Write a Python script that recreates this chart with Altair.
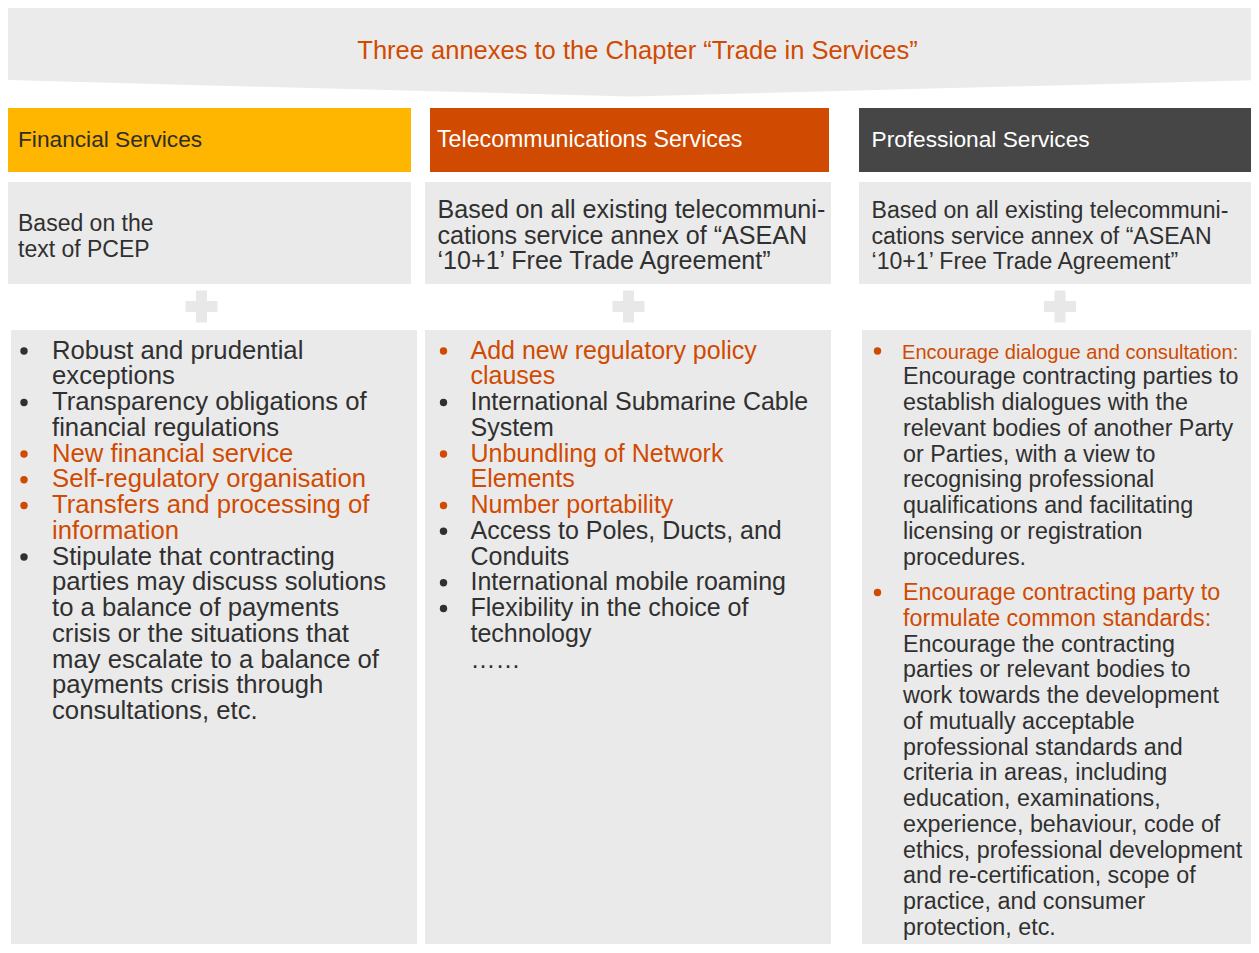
import altair as alt
import pandas as pd

# ---------------- data (text content) ----------------
title_text = "Three annexes to the Chapter \u201cTrade in Services\u201d"

annex_names = ["Financial Services", "Telecommunications Services", "Professional Services"]

basis_fin = ["Based on the", "text of PCEP"]
basis_tel = ["Based on all existing telecommuni-",
             "cations service annex of \u201cASEAN",
             "\u201810+1\u2019 Free Trade Agreement\u201d"]
basis_pro = ["Based on all existing telecommuni-",
             "cations service annex of \u201cASEAN",
             "\u201810+1\u2019 Free Trade Agreement\u201d"]

fin_text = ["Robust and prudential", "exceptions",
            "Transparency obligations of", "financial regulations",
            "New financial service",
            "Self-regulatory organisation",
            "Transfers and processing of", "information",
            "Stipulate that contracting", "parties may discuss solutions",
            "to a balance of payments", "crisis or the situations that",
            "may escalate to a balance of", "payments crisis through",
            "consultations, etc."]
fin_item = [1, 1, 2, 2, 3, 4, 5, 5, 6, 6, 6, 6, 6, 6, 6]
fin_new = [0, 0, 0, 0, 1, 1, 1, 1, 0, 0, 0, 0, 0, 0, 0]

tel_text = ["Add new regulatory policy", "clauses",
            "International Submarine Cable", "System",
            "Unbundling of Network", "Elements",
            "Number portability",
            "Access to Poles, Ducts, and", "Conduits",
            "International mobile roaming",
            "Flexibility in the choice of", "technology",
            "\u2026\u2026"]
tel_item = [1, 1, 2, 2, 3, 3, 4, 5, 5, 6, 7, 7, 0]
tel_new = [1, 1, 0, 0, 1, 1, 1, 0, 0, 0, 0, 0, 0]

pro_text = ["Encourage dialogue and consultation:",
            "Encourage contracting parties to",
            "establish dialogues with the",
            "relevant bodies of another Party",
            "or Parties, with a view to",
            "recognising professional",
            "qualifications and facilitating",
            "licensing or registration",
            "procedures.",
            "Encourage contracting party to",
            "formulate common standards:",
            "Encourage the contracting",
            "parties or relevant bodies to",
            "work towards the development",
            "of mutually acceptable",
            "professional standards and",
            "criteria in areas, including",
            "education, examinations,",
            "experience, behaviour, code of",
            "ethics, professional development",
            "and re-certification, scope of",
            "practice, and consumer",
            "protection, etc."]
pro_item = [1] * 9 + [2] * 14
pro_new = [1, 0, 0, 0, 0, 0, 0, 0, 0, 1, 1] + [0] * 12

# ---------------- layout & style ----------------
# the page has an 8px margin: the view covers page pixels 8..1251 x 8..944
W, H = 1243, 936
FONT = "Liberation Sans"
GREY = "#EAEAEA"
ORANGE = "#D04A02"
DARK = "#303030"
annex_fill = ["#FFB600", "#D04A02", "#464646"]
annex_label_color = ["#2D2D2D", "#FFFFFF", "#FFFFFF"]

xs = alt.Scale(domain=[8, 8 + W], nice=False, zero=False)
ys = alt.Scale(domain=[8, 8 + H], nice=False, zero=False, reverse=True)

def X(f):
    return alt.X(f, type="quantitative", scale=xs, axis=None)

def Y(f):
    return alt.Y(f, type="quantitative", scale=ys, axis=None)

# banner (flat chevron)
banner = pd.DataFrame({"x": [4, 630, 1262], "yb": [80, 96.5, 80], "yt": [6, 6, 6]})
banner_layer = alt.Chart(banner).mark_area(color="#EBEBEB").encode(
    x=X("x"), y=Y("yb"), y2="yt")

# rectangles
col_header_x = [(6, 411), (430, 829), (859, 1262)]
col_basis_x = [(6, 411), (425, 831), (859, 1262)]
col_panel_x = [(11, 417), (425, 831), (862, 1262)]
plus_cx = [201.5, 628.5, 1060]
plus_cy = 306.5

rects = []
for i, name in enumerate(annex_names):
    rects.append(dict(x=col_header_x[i][0], x2=col_header_x[i][1], y=108, y2=172, c=annex_fill[i]))
    rects.append(dict(x=col_basis_x[i][0], x2=col_basis_x[i][1], y=182, y2=284, c=GREY))
    rects.append(dict(x=col_panel_x[i][0], x2=col_panel_x[i][1], y=330, y2=960, c=GREY))
    cx = plus_cx[i]
    rects.append(dict(x=cx - 5.5, x2=cx + 5.5, y=plus_cy - 16, y2=plus_cy + 16, c="#E8E8E8"))
    rects.append(dict(x=cx - 16, x2=cx + 16, y=plus_cy - 5.5, y2=plus_cy + 5.5, c="#E8E8E8"))
rect_df = pd.DataFrame(rects)
rect_layer = alt.Chart(rect_df).mark_rect().encode(
    x=X("x"), x2="x2", y=Y("y"), y2="y2",
    color=alt.Color("c:N", scale=None))

# title
title_df = pd.DataFrame({"x": [637.5], "y": [59.3], "t": [title_text]})
title_layer = alt.Chart(title_df).mark_text(
    font=FONT, fontSize=25.5, color=ORANGE, align="center", baseline="alphabetic"
).encode(x=X("x"), y=Y("y"), text="t:N")

# header labels
head_x = [18, 437, 871.5]
head_fs = [22.7, 23.2, 22.7]
head_df = pd.DataFrame({"x": head_x, "y": [146.7] * 3, "t": annex_names,
                        "c": annex_label_color, "s": head_fs})
head_layer = alt.Chart(head_df).mark_text(
    font=FONT, align="left", baseline="alphabetic"
).encode(x=X("x"), y=Y("y"), text="t:N", color=alt.Color("c:N", scale=None),
         size=alt.Size("s:Q", scale=None))

# basis lines
basis_rows = []
basis_specs = [(basis_fin, 18, 231.0, 23), (basis_tel, 437.5, 218.3, 25.1), (basis_pro, 871.5, 218.3, 23.1)]
for lines, bx, by, fs in basis_specs:
    for k, t in enumerate(lines):
        basis_rows.append(dict(x=bx, y=by + k * 25.5, t=t, s=fs))
basis_df = pd.DataFrame(basis_rows)
basis_layer = alt.Chart(basis_df).mark_text(
    font=FONT, color=DARK, align="left", baseline="alphabetic"
).encode(x=X("x"), y=Y("y"), text="t:N", size=alt.Size("s:Q", scale=None))

# body lines + bullets
FIRST_BASE = 358.5
LH = 25.75
panels = [
    (fin_text, fin_item, fin_new, 52, 24, 25.7, 0.0),
    (tel_text, tel_item, tel_new, 470.5, 443.5, 25, 0.0),
    (pro_text, pro_item, pro_new, 903, 877.5, 23.3, 9.75),
]
body_rows, bullet_rows = [], []
for p, (texts, items, news, tx, bx, fs, gap) in enumerate(panels):
    prev = None
    n_items = 0
    for k, t in enumerate(texts):
        it = items[k]
        if it != prev and it > 0:
            n_items += 1
        base = FIRST_BASE + k * LH + max(n_items - 1, 0) * gap
        c = ORANGE if news[k] else DARK
        size = fs
        x = tx
        if p == 2 and k == 0:
            size = 20.1
            x = 902
        body_rows.append(dict(x=x, y=base, t=t, c=c, s=size))
        if it != prev and it > 0:
            bullet_rows.append(dict(x=bx, y=base - 7.5, c=c))
        prev = it
body_df = pd.DataFrame(body_rows)
bullet_df = pd.DataFrame(bullet_rows)

body_layer = alt.Chart(body_df).mark_text(
    font=FONT, align="left", baseline="alphabetic"
).encode(x=X("x"), y=Y("y"), text="t:N",
         color=alt.Color("c:N", scale=None), size=alt.Size("s:Q", scale=None))

bullet_layer = alt.Chart(bullet_df).mark_circle(size=55, opacity=1).encode(
    x=X("x"), y=Y("y"), color=alt.Color("c:N", scale=None))

chart = alt.layer(
    banner_layer, rect_layer, title_layer, head_layer, basis_layer, body_layer, bullet_layer
).properties(
    width=W, height=H, padding=0, autosize=alt.AutoSizeParams(type="none"), background="white"
).configure_view(stroke=None, strokeWidth=0)

chart.save("out.html", embed_options={"renderer": "svg", "actions": False})
